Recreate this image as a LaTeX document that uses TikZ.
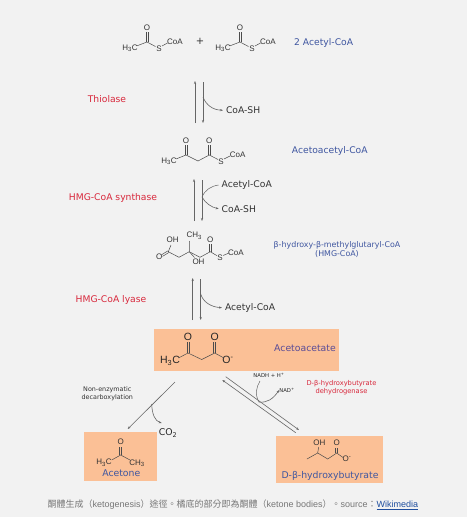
\documentclass[tikz,border=0pt]{standalone}
\usepackage{fontspec}
\setmainfont{DejaVu Sans}
\newfontfamily\libsans{Liberation Sans}
\newfontfamily\cjkfont{Noto Sans CJK TC}
\definecolor{bgc}{HTML}{F2F2F2}
\definecolor{boxc}{HTML}{FBC096}
\definecolor{bluec}{HTML}{3F56A0}
\definecolor{redc}{HTML}{D8283C}
\definecolor{purc}{HTML}{5A4C96}
\definecolor{inkc}{HTML}{333333}
\definecolor{capc}{HTML}{777777}
\definecolor{linkc}{HTML}{1F4E9E}
\usetikzlibrary{arrows.meta}
\tikzset{
 x=1pt,y=-1pt,
 blab/.style={font=\fontsize{9.2}{11}\selectfont,text=inkc,inner sep=0pt,outer sep=3pt,yshift=-0.7pt},
 cname/.style={font=\fontsize{9.2}{11}\selectfont,text=bluec,inner sep=0pt,yshift=-0.7pt},
 enz/.style={font=\fontsize{9.2}{11}\selectfont,text=redc,inner sep=0pt,yshift=-0.7pt},
 atom/.style={font=\libsans\fontsize{8}{9}\selectfont,text=black!80,inner sep=0pt},
 atomb/.style={font=\libsans\fontsize{10.5}{11}\selectfont,text=black!85,inner sep=0pt},
 bond/.style={draw=black!70,line width=0.5pt},
 rx/.style={draw=black!60,line width=0.6pt,-{Stealth[length=3pt,width=2.2pt]}}
}
\begin{document}
\begin{tikzpicture}
\useasboundingbox (0,0) rectangle (467,517);
\fill[bgc] (0,0) rectangle (467,517);
% boxes
\fill[boxc] (154,329) rectangle (338.7,370.7);
\fill[boxc] (84.3,432) rectangle (156.7,481);
\fill[boxc] (276,436) rectangle (382.7,483.3);
% acetyl-CoA 1
\node[atom] (a1h) at (130,48.5) {H\textsubscript{3}C};
\node[atom] (a1o) at (147,28) {O};
\node[atom] (a1s) at (159,48.5) {S};
\node[atom] (a1c) at (175,42) {CoA};
\coordinate (a1k) at (147,42);
\draw[bond] (136.5,46) -- (a1k) -- (155.5,46.5);
\draw[bond] (146,42) -- (146,32); \draw[bond] (148,42) -- (148,32);
\draw[bond] (162,46) -- (167.5,43);
\node[font=\fontsize{10}{11}\selectfont,inner sep=0pt,text=inkc] (plus) at (200,41.7) {+};
% acetyl-CoA 2
\node[atom] (a2h) at (223,48.5) {H\textsubscript{3}C};
\node[atom] (a2o) at (240,28) {O};
\node[atom] (a2s) at (252,48.5) {S};
\node[atom] (a2c) at (268,42) {CoA};
\coordinate (a2k) at (240,42);
\draw[bond] (229.5,46) -- (a2k) -- (248.5,46.5);
\draw[bond] (239,42) -- (239,32); \draw[bond] (241,42) -- (241,32);
\draw[bond] (255,46) -- (260.5,43);
\node[cname,anchor=west] (n1) at (294,42.3) {2 Acetyl-CoA};
% thiolase
\node[enz] (e1) at (107,98) {Thiolase};
\coordinate (r1a) at (195,123); \coordinate (r1b) at (195,81);
\coordinate (r1c) at (203,82); \coordinate (r1d) at (203,123);
\draw[rx] (r1a) -- (r1b);
\draw[rx] (r1c) -- (r1d);
\node[blab,anchor=west] (coa1) at (223,109.5) {CoA-SH};
\draw[rx] (203,97) .. controls (206,105) and (213,110) .. (coa1.west);
% acetoacetyl
\node[atom] (b1h) at (169,161.5) {H\textsubscript{3}C};
\node[atom] (b1o) at (186,141) {O};
\node[atom] (b2o) at (209.3,141) {O};
\node[atom] (b1s) at (221,161.5) {S};
\node[atom] (b1c) at (237.7,155) {CoA};
\draw[bond] (176,159) -- (186,155) -- (198,161) -- (209.3,155) -- (218,159.5);
\draw[bond] (185,155) -- (185,145); \draw[bond] (187,155) -- (187,145);
\draw[bond] (208.3,155) -- (208.3,145); \draw[bond] (210.3,155) -- (210.3,145);
\draw[bond] (224,159) -- (230,156);
\node[cname,anchor=west] (n2) at (291.7,150) {Acetoacetyl-CoA};
% HMG synthase
\node[enz] (e2) at (113,197) {HMG-CoA synthase};
\coordinate (r2a) at (194,221); \coordinate (r2b) at (194,179);
\coordinate (r2c) at (202,180); \coordinate (r2d) at (202,221);
\draw[rx] (r2a) -- (r2b);
\draw[rx] (r2c) -- (r2d);
\node[blab,anchor=west] (acc1) at (218.7,184.3) {Acetyl-CoA};
\node[blab,anchor=west] (coa2) at (218.7,208) {CoA-SH};
\draw[bond,black!60] (acc1.west) .. controls (211,186) and (205,190) .. (202,197);
\draw[rx] (202,197) .. controls (205,203) and (212,207.5) .. (coa2.west);
% HMG-CoA
\node[atom] (c1) at (172.7,240) {OH};
\node[atom] (c2) at (159.3,257) {O};
\node[atom] (c3) at (194.3,235.7) {CH\textsubscript{3}};
\node[atom] (c4) at (198.5,261.7) {OH};
\node[atom] (c5) at (210.3,239.3) {O};
\node[atom] (c6) at (220,257.3) {S};
\node[atom] (c7) at (236,252.3) {CoA};
\draw[bond] (171,245) -- (168.3,251.7) -- (179,257.3) -- (189.3,251.7) -- (200,257.3) -- (210.3,251.7) -- (217,255.7);
\draw[bond] (167.8,250.9) -- (161.5,254.8); \draw[bond] (168.8,252.5) -- (162.5,256.4);
\draw[bond] (189.3,251.7) -- (189.5,241);
\draw[bond] (189.3,251.7) -- (194.5,257.5);
\draw[bond] (209.3,251.7) -- (209.3,243.5); \draw[bond] (211.3,251.7) -- (211.3,243.5);
\draw[bond] (223,255.5) -- (229,253);
\node[cname,font=\fontsize{7.9}{9.2}\selectfont,align=center] (n3) at (337,248.5) {β-hydroxy-β-methylglutaryl-CoA\\(HMG-CoA)};
% lyase
\node[enz] (e3) at (111,299) {HMG-CoA lyase};
\coordinate (r3a) at (192.7,320); \coordinate (r3b) at (192.7,278);
\coordinate (r3c) at (200.7,279); \coordinate (r3d) at (200.7,320);
\draw[rx] (r3a) -- (r3b);
\draw[rx] (r3c) -- (r3d);
\node[blab,anchor=west] (acc2) at (222,307) {Acetyl-CoA};
\draw[rx] (200.7,294) .. controls (203,302) and (211,307) .. (acc2.west);
% acetoacetate
\node[atomb] (d1) at (170,360.7) {H\textsubscript{3}C};
\node[atomb] (d2) at (188,337) {O};
\node[atomb] (d3) at (214.7,337) {O};
\node[atomb] (d4) at (228,360) {O\textsuperscript{-}};
\draw[bond] (178.5,358) -- (188,353) -- (201.7,359.5) -- (214.7,353) -- (224,358);
\draw[bond] (187,353) -- (187,342); \draw[bond] (189,353) -- (189,342);
\draw[bond] (213.7,353) -- (213.7,342); \draw[bond] (215.7,353) -- (215.7,342);
\node[font=\fontsize{9.3}{11}\selectfont,text=purc,inner sep=0pt,anchor=east,yshift=-0.7pt] (n4) at (336,347) {Acetoacetate};
% decarboxylation
\node[font=\fontsize{6.4}{8.2}\selectfont,text=inkc,inner sep=0pt,align=center] (e4) at (107.3,393.5) {Non-enzymatic\\decarboxylation};
\coordinate (r4a) at (175,382); \coordinate (r4b) at (127.7,429);
\draw[rx] (r4a) -- (r4b);
\node[font=\fontsize{9.3}{10}\selectfont,text=black!85,inner sep=0pt] (co2) at (168,433) {CO\textsubscript{2}};
\draw[rx] (151.7,404) .. controls (152,414) and (155,421) .. (161.7,423);
% dehydrogenase arrows
\coordinate (r5a) at (225.7,376.7); \coordinate (r5b) at (299,430);
\coordinate (r5c) at (295.7,432.7); \coordinate (r5d) at (222.3,380);
\draw[rx] (r5a) -- (r5b);
\draw[rx] (r5c) -- (r5d);
\node[font=\fontsize{5.3}{7}\selectfont,text=black!85,inner sep=0pt] (nadh) at (269,375) {NADH + H\textsuperscript{+}};
\node[font=\fontsize{5.3}{7}\selectfont,text=black!85,inner sep=0pt] (nad) at (287,390) {NAD\textsuperscript{+}};
\draw[bond,black!60] (260,381) .. controls (256.5,387) and (254.5,394) .. (259,402);
\draw[rx] (259,402) .. controls (267,403) and (273,399) .. (nad.west);
\node[font=\fontsize{6.7}{8.5}\selectfont,text=redc,inner sep=0pt,align=center] (e5) at (341.5,387.5) {D-β-hydroxybutyrate\\dehydrogenase};
% acetone
\node[atom] (f1) at (120.7,442) {O};
\node[atom] (f2) at (104,462.7) {H\textsubscript{3}C};
\node[atom] (f3) at (137,463) {CH\textsubscript{3}};
\draw[bond] (111.7,460) -- (120.7,455) -- (130,460);
\draw[bond] (119.7,455) -- (119.7,446.5); \draw[bond] (121.7,455) -- (121.7,446.5);
\node[font=\fontsize{9.3}{11}\selectfont,text=bluec,inner sep=0pt,yshift=-0.7pt] (n5) at (121.3,472.3) {Acetone};
% hydroxybutyrate
\node[atom] (g1) at (319.3,443) {OH};
\node[atom] (g2) at (336.7,443) {O};
\node[atom] (g3) at (347,459) {O\textsuperscript{-}};
\draw[bond] (307,459) -- (317.7,453) -- (327.7,459) -- (336.7,453) -- (343,457.5);
\draw[bond] (317.7,453) -- (318.7,447);
\draw[bond] (335.7,453) -- (335.7,447.5); \draw[bond] (337.7,453) -- (337.7,447.5);
\node[font=\fontsize{9.3}{11}\selectfont,text=bluec,inner sep=0pt,yshift=-0.7pt] (n6) at (330,475) {D-β-hydroxybutyrate};
% caption
\node[font=\fontsize{9}{11}\selectfont,text=capc,inner sep=0pt,anchor=west] (cap) at (47.3,505) {{\cjkfont 酮體生成（}{\libsans ketogenesis}{\cjkfont ）途徑。橘底的部分即為酮體（}{\libsans ketone bodies}{\cjkfont ）。}{\libsans source}{\cjkfont ：}{\libsans\color{linkc}\underbar{Wikimedia}}};
\end{tikzpicture}
\end{document}
